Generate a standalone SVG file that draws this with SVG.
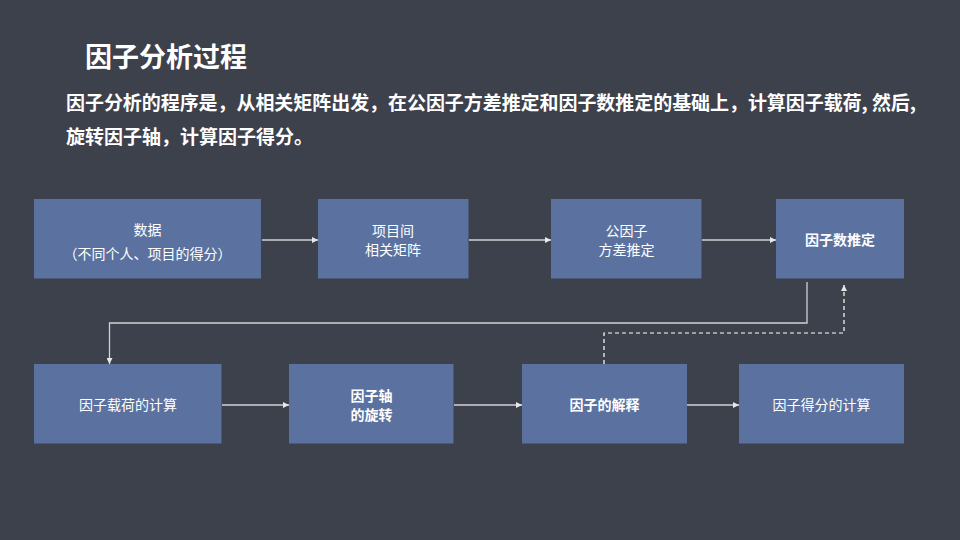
<svg xmlns="http://www.w3.org/2000/svg" width="960" height="540" viewBox="0 0 960 540">
<defs>
<style>
.bg{fill:#3d414c}
.box{fill:#5b72a0}
.t{font-family:"Noto Sans CJK SC","Noto Sans",sans-serif;fill:#ffffff;font-size:14px;text-anchor:middle}
.b{font-weight:bold}
.h{font-family:"Noto Sans CJK SC","Noto Sans",sans-serif;fill:#ffffff;font-weight:bold}
.ln{fill:none;stroke:#d2d2d2;stroke-width:1.3}
.dash{fill:none;stroke:#ffffff;stroke-width:1.2;stroke-dasharray:4 3}
</style>
<marker id="ah" viewBox="0 0 10 10" refX="10" refY="5" markerWidth="6" markerHeight="6" markerUnits="userSpaceOnUse" orient="auto">
<path d="M0,0 L10,5 L0,10 Z" fill="#e8e8e8"/>
</marker>
</defs>
<rect class="bg" x="0" y="0" width="960" height="540"/>
<text class="h" x="85" y="67" font-size="27">因子分析过程</text>
<text class="h" x="66" y="110" font-size="19" textLength="850" lengthAdjust="spacing">因子分析的程序是，从相关矩阵出发，在公因子方差推定和因子数推定的基础上，计算因子载荷, 然后,</text>
<text class="h" x="66" y="144" font-size="19">旋转因子轴，计算因子得分。</text>
<g id="connectors">
<line class="ln" x1="262" y1="240" x2="318" y2="240" marker-end="url(#ah)"/>
<line class="ln" x1="469" y1="240" x2="551" y2="240" marker-end="url(#ah)"/>
<line class="ln" x1="702" y1="240" x2="776" y2="240" marker-end="url(#ah)"/>
<polyline class="ln" points="807,282 807,323 109.5,323 109.5,364" marker-end="url(#ah)"/>
<polyline class="dash" points="604,364 604,333 844,333 844,285" marker-end="url(#ah)"/>
<line class="ln" x1="222" y1="405" x2="289" y2="405" marker-end="url(#ah)"/>
<line class="ln" x1="454" y1="405" x2="522" y2="405" marker-end="url(#ah)"/>
<line class="ln" x1="687" y1="405" x2="739" y2="405" marker-end="url(#ah)"/>
</g>
<g id="node1">
<rect class="box" x="34" y="199" width="227" height="79.5"/>
<text class="t" x="147.5" y="234.5">数据</text>
<text class="t" x="147.5" y="258.5" font-size="13.5">（不同个人、项目的得分）</text>
</g>
<g id="node2">
<rect class="box" x="318" y="199" width="150.5" height="79.5"/>
<text class="t" x="393" y="235.7" font-size="13">项目间</text>
<text class="t" x="393" y="254.7" font-size="13">相关矩阵</text>
</g>
<g id="node3">
<rect class="box" x="551" y="199" width="150.5" height="79.5"/>
<text class="t" x="626.5" y="235.7" font-size="13">公因子</text>
<text class="t" x="626.5" y="254.7" font-size="13">方差推定</text>
</g>
<g id="node4">
<rect class="box" x="776" y="199" width="128" height="79.5"/>
<text class="t b" x="840" y="245" font-size="14.5">因子数推定</text>
</g>
<g id="node5">
<rect class="box" x="34" y="364" width="187.5" height="79.5"/>
<text class="t" x="128" y="410">因子载荷的计算</text>
</g>
<g id="node6">
<rect class="box" x="289" y="364" width="164.5" height="79.5"/>
<text class="t b" x="371.5" y="400.6" font-size="13.5">因子轴</text>
<text class="t b" x="371.5" y="420.2" font-size="13.5">的旋转</text>
</g>
<g id="node7">
<rect class="box" x="522" y="364" width="165" height="79.5"/>
<text class="t b" x="604.5" y="410" font-size="14.5">因子的解释</text>
</g>
<g id="node8">
<rect class="box" x="739" y="364" width="165" height="79.5"/>
<text class="t" x="821.5" y="410">因子得分的计算</text>
</g>
</svg>
